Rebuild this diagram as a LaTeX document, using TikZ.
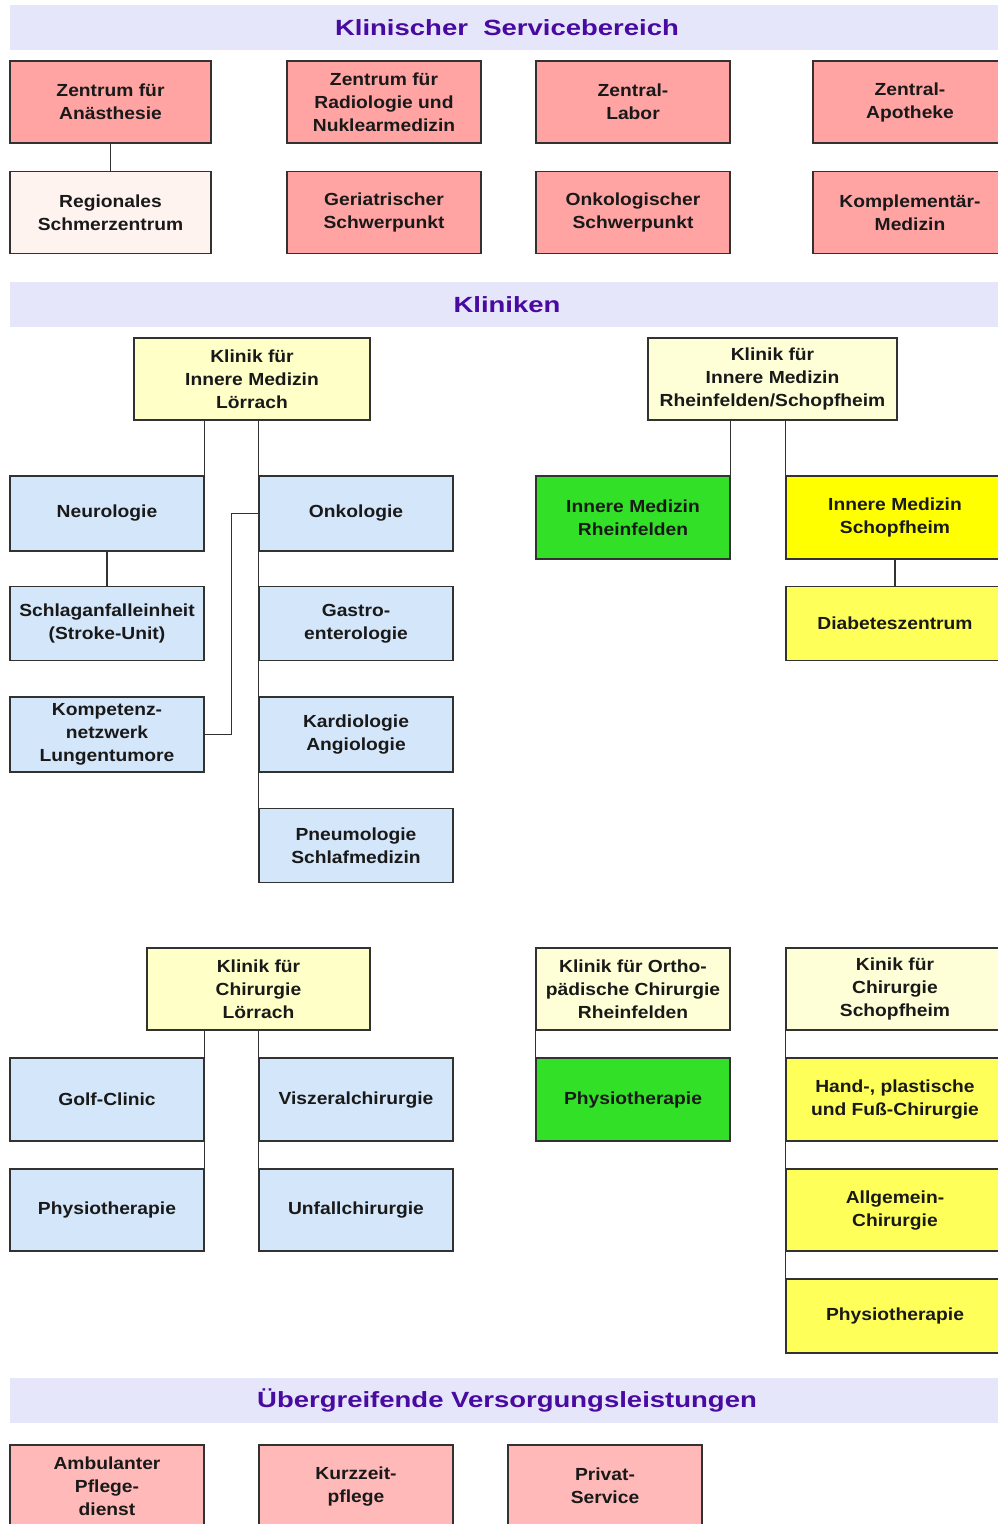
\documentclass[tikz,border=0pt]{standalone}
\usepackage{fontspec}
\usepackage{tikz}
\usetikzlibrary{calc}
\newfontfamily\boxfont{Liberation Sans}[FakeStretch=1.1]
\newfontfamily\bandfont{Liberation Sans}[FakeStretch=1.25]
\definecolor{BandBlue}{RGB}{230,230,250}
\definecolor{TitleViolet}{RGB}{72,10,160}
\definecolor{SvPink}{RGB}{255,163,163}
\definecolor{SvLight}{RGB}{255,243,240}
\definecolor{KlYellow}{RGB}{255,255,200}
\definecolor{KlCream}{RGB}{255,255,215}
\definecolor{KlBlue}{RGB}{212,230,250}
\definecolor{KlGreen}{RGB}{50,224,40}
\definecolor{KlGelb}{RGB}{255,255,0}
\definecolor{KlGelbHell}{RGB}{255,255,90}
\definecolor{VsPink}{RGB}{255,185,185}
\definecolor{LineGray}{RGB}{50,50,50}

\begin{document}
\begin{tikzpicture}[x=1pt, y=-1pt]
				\tikzstyle{every node}=[draw=LineGray, line width=1.3pt, align=center, inner sep=2pt, minimum width=194pt, minimum height=82pt, text=black!90, font=\boxfont\bfseries\fontsize{17.5}{23}\selectfont];
				\tikzstyle{band}=[draw=none, fill=BandBlue, minimum width=994pt, minimum height=45pt, text=TitleViolet, font=\bandfont\bfseries\fontsize{22}{26}\selectfont];
				\tikzstyle{link}=[draw=LineGray, line width=1.6pt];
				\useasboundingbox (0,0) rectangle (998,1524);
				\clip (0,0) rectangle (998,1524);
				\node [band] (b1) at (507,27.5) {Klinischer\ \ Servicebereich};
				\node [fill=SvPink, minimum width=201pt] (anae) at (110.5,102) {Zentrum für\\Anästhesie};
				\node [fill=SvPink] (radio) at (384,102) {Zentrum für\\Radiologie und\\Nuklearmedizin};
				\node [fill=SvPink] (labor) at (633,102) {Zentral-\\Labor};
				\node [fill=SvPink] (apo) at (910,102) {Zentral-\\Apotheke};
				\node [fill=SvLight, minimum width=201pt] (schmerz) at (110.5,212.5) {Regionales\\Schmerzentrum};
				\node [fill=SvPink] (geri) at (384,212.5) {Geriatrischer\\Schwerpunkt};
				\node [fill=SvPink] (onks) at (633,212.5) {Onkologischer\\Schwerpunkt};
				\node [fill=SvPink] (kompl) at (910,212.5) {Komplementär-\\Medizin};
				\draw [link] (anae) -- (schmerz);
				\node [band] (b2) at (507,304.5) {Kliniken};
				\node [fill=KlYellow, minimum width=236pt] (iml) at (252,379) {Klinik für\\Innere Medizin\\Lörrach};
				\node [fill=KlBlue, minimum height=75pt] (neuro) at (107,513.5) {Neurologie};
				\node [fill=KlBlue, minimum height=74pt] (schlag) at (107,623.5) {Schlaganfalleinheit\\(Stroke-Unit)};
				\node [fill=KlBlue, minimum height=75pt] (kompz) at (107,734.5) {Kompetenz-\\netzwerk\\Lungentumore};
				\node [fill=KlBlue, minimum height=75pt] (onko) at (356,513.5) {Onkologie};
				\node [fill=KlBlue, minimum height=74pt] (gastro) at (356,623.5) {Gastro-\\enterologie};
				\node [fill=KlBlue, minimum height=75pt] (kardio) at (356,734.5) {Kardiologie\\Angiologie};
				\node [fill=KlBlue, minimum height=74pt] (pneumo) at (356,845.5) {Pneumologie\\Schlafmedizin};
				\draw [link] (iml.south -| neuro.north east) -- (neuro.north east);
				\draw [link] (iml.south -| onko.north west) -- (pneumo.north west);
				\draw [link] (neuro) -- (schlag);
				\draw [link] (kompz.east) -- ++(27,0) |- (onko.west);
				\node [fill=KlCream, minimum width=249pt] (imrs) at (772.5,379) {Klinik für\\Innere Medizin\\Rheinfelden/Schopfheim};
				\node [fill=KlGreen, minimum height=83pt] (imrh) at (633,517.5) {Innere Medizin\\Rheinfelden};
				\node [fill=KlGelb, minimum width=218pt, minimum height=83pt] (imsch) at (895,517.5) {Innere Medizin\\Schopfheim};
				\node [fill=KlGelbHell, minimum width=218pt, minimum height=74pt] (diab) at (895,623.5) {Diabeteszentrum};
				\draw [link] (imrs.south -| imrh.north east) -- (imrh.north east);
				\draw [link] (imrs.south -| imsch.north west) -- (imsch.north west);
				\draw [link] (imsch) -- (diab);
				\node [fill=KlYellow, minimum width=223pt] (chl) at (258.5,989) {Klinik für\\Chirurgie\\Lörrach};
				\node [fill=KlBlue, minimum height=83pt] (golf) at (107,1099.5) {Golf-Clinic};
				\node [fill=KlBlue] (physl) at (107,1210) {Physiotherapie};
				\node [fill=KlBlue, minimum height=83pt] (visz) at (356,1099.5) {Viszeralchirurgie};
				\node [fill=KlBlue] (unfall) at (356,1210) {Unfallchirurgie};
				\draw [link] (chl.south -| golf.north east) -- (physl.north east);
				\draw [link] (chl.south -| visz.north west) -- (unfall.north west);
				\node [fill=KlCream] (ortho) at (633,989) {Klinik für Ortho-\\pädische Chirurgie\\Rheinfelden};
				\node [fill=KlGreen, minimum height=83pt] (physr) at (633,1099.5) {Physiotherapie};
				\draw [link] (ortho.south west) -- (physr.north west);
				\node [fill=KlCream, minimum width=218pt] (chs) at (895,989) {Kinik für\\Chirurgie\\Schopfheim};
				\node [fill=KlGelbHell, minimum width=218pt, minimum height=83pt] (hand) at (895,1099.5) {Hand-, plastische\\und Fuß-Chirurgie};
				\node [fill=KlGelbHell, minimum width=218pt] (allg) at (895,1210) {Allgemein-\\Chirurgie};
				\node [fill=KlGelbHell, minimum width=218pt, minimum height=74pt] (physs) at (895,1316) {Physiotherapie};
				\draw [link] (chs.south west) -- (physs.north west);
				\node [band] (b3) at (507,1400.5) {Übergreifende Versorgungsleistungen};
				\node [fill=VsPink] (amb) at (107,1486) {Ambulanter\\Pflege-\\dienst};
				\node [fill=VsPink] (kurz) at (356,1486) {Kurzzeit-\\pflege};
				\node [fill=VsPink] (priv) at (605,1486) {Privat-\\Service};
			\end{tikzpicture}
\end{document}
